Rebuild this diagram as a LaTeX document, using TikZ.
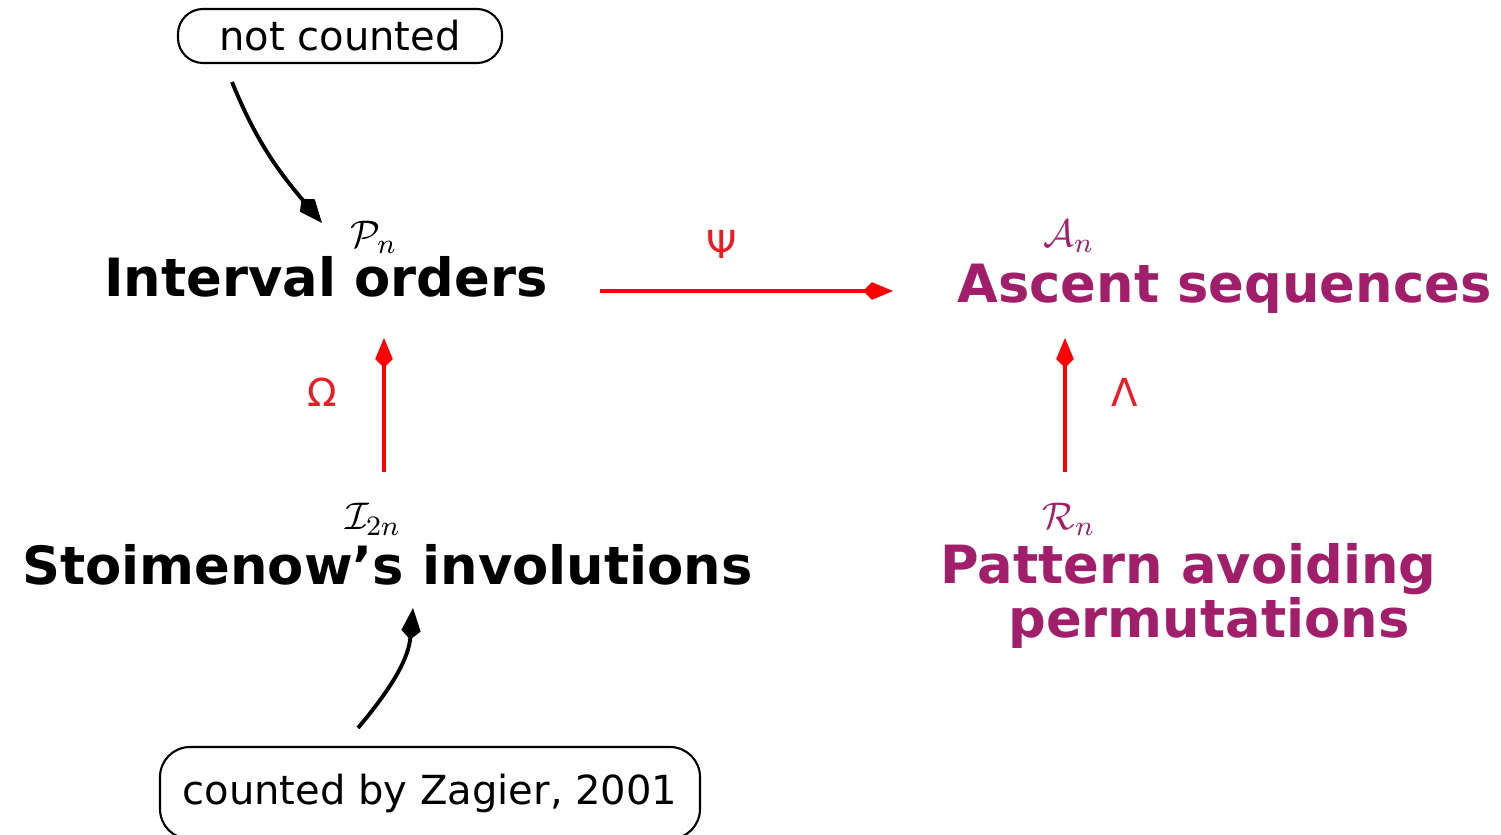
\documentclass[tikz,border=0pt]{standalone}
\usepackage{amsmath,amssymb}
\usepackage{fontspec}
\setmainfont{DejaVu Sans}
\usetikzlibrary{arrows.meta}

\definecolor{plum}{RGB}{161,31,106}
\definecolor{mapred}{RGB}{237,28,36}

\tikzset{
  big/.style={font=\fontsize{15}{14.5}\selectfont\bfseries, inner sep=0pt},
  note/.style={draw, line width=0.6pt, font=\fontsize{11.4}{13}\selectfont, inner sep=0pt},
  sym/.style={font=\fontsize{11}{13}\selectfont, inner sep=0pt},
  lbl/.style={font=\fontsize{11}{13}\selectfont, text=mapred, inner sep=0pt},
  map/.style={red, line width=0.9pt, -{Kite[length=8.5pt,width=5pt,inset=2.5pt]}},
  feed/.style={black, line width=1.1pt, -{Kite[length=9pt,width=5.5pt,inset=2.5pt]}}
}

\begin{document}
\begin{tikzpicture}
    \useasboundingbox (0,0) rectangle (15.01,8.34);
    \clip (0,0) rectangle (15.01,8.34);

    \node[note, rounded corners=0.25cm, minimum width=3.24cm, minimum height=0.54cm] (notc) at (3.40,7.98) {not counted};
    \node[note, rounded corners=0.3cm, minimum width=5.40cm, minimum height=0.92cm] (zag) at (4.30,0.41) {counted by Zagier, 2001};

    \node[big, anchor=base] (intv) at (3.26,5.37) {Interval orders};
    \node[big, anchor=base, text=plum] (asc) at (12.245,5.31) {Ascent sequences};
    \node[big, anchor=base] (stoi) at (3.875,2.49) {Stoimenow’s involutions};
    \node[big, anchor=base, align=center, text=plum] (pav) at (11.885,1.96) {Pattern avoiding\\\hspace*{0.41cm}permutations};

    \node[sym] (pn) at (3.74,5.97) {$\mathcal{P}_n$};
    \node[sym, text=plum] (an) at (10.69,5.98) {$\mathcal{A}_n$};
    \node[sym] (itn) at (3.73,3.15) {$\mathcal{I}_{2n}$};
    \node[sym, text=plum] (rn) at (10.69,3.15) {$\mathcal{R}_n$};

    \coordinate (psi-a) at (6.00,5.43);
    \coordinate (psi-b) at (8.93,5.43);
    \draw[map] (psi-a) -- (psi-b);
    \node[lbl] (psi) at (7.22,5.90) {Ψ};

    \coordinate (om-a) at (3.84,3.62);
    \coordinate (om-b) at (3.84,4.96);
    \draw[map] (om-a) -- (om-b);
    \node[lbl] (om) at (3.22,4.42) {Ω};

    \coordinate (la-a) at (10.65,3.62);
    \coordinate (la-b) at (10.65,4.96);
    \draw[map] (la-a) -- (la-b);
    \node[lbl] (la) at (11.25,4.42) {Λ};

    \coordinate (top-a) at (2.32,7.52);
    \coordinate (top-b) at (3.22,6.11);
    \draw[feed] (top-a) to[out=-68,in=130] (top-b);

    \coordinate (bot-a) at (3.58,1.06);
    \coordinate (bot-b) at (4.13,2.26);
    \draw[feed] (bot-a) to[out=50,in=-95] (bot-b);
\end{tikzpicture}
\end{document}
